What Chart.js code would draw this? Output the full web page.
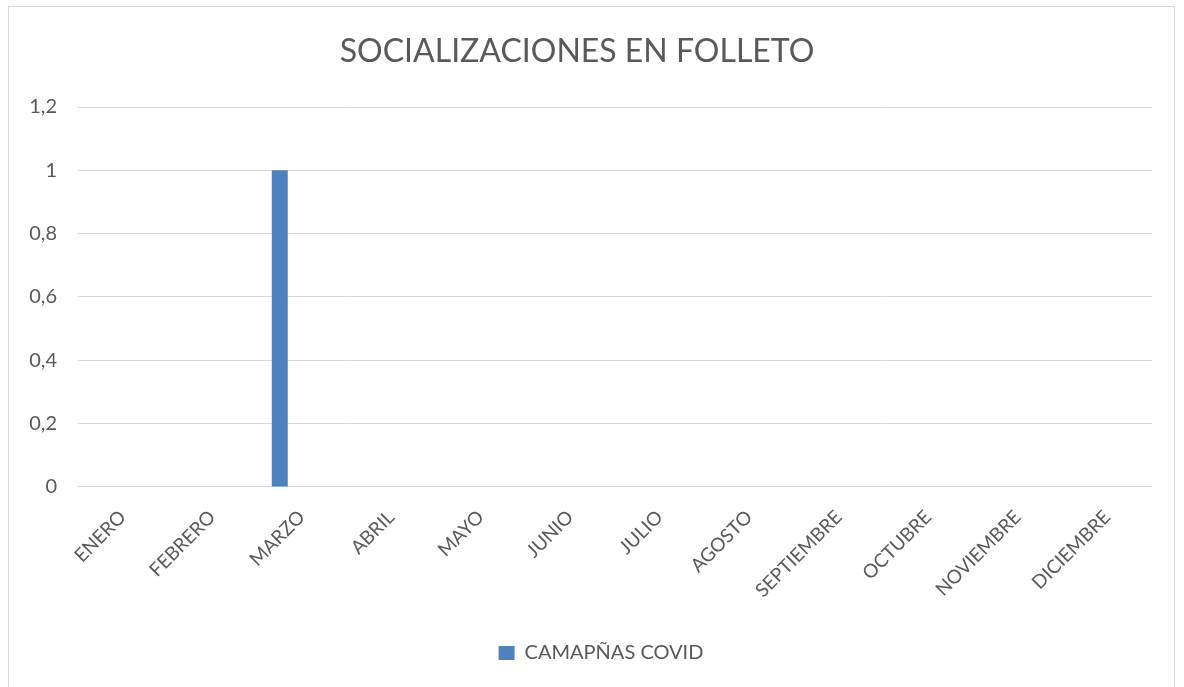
<!DOCTYPE html>
<html>
<head>
<meta charset="utf-8">
<script src="https://cdn.jsdelivr.net/npm/chart.js@4/dist/chart.umd.min.js"></script>
<style>
  html, body { margin: 0; padding: 0; background: #ffffff; overflow: hidden; width: 1184px; height: 687px; }
  #box { position: absolute; left: 8px; top: 6px; width: 1167px; height: 700px; border: 1px solid #d9d9d9; box-sizing: border-box; background: #fff; }
  #c { display: block; }
</style>
</head>
<body>
<div id="box"><canvas id="c" width="1165" height="681"></canvas></div>
<script>
const title = "SOCIALIZACIONES EN FOLLETO";
const categories = ["ENERO","FEBRERO","MARZO","ABRIL","MAYO","JUNIO","JULIO","AGOSTO","SEPTIEMBRE","OCTUBRE","NOVIEMBRE","DICIEMBRE"];
const seriesName = "CAMAPÑAS COVID";
const campanasCovid = [null, null, 1, null, null, null, null, null, null, null, null, null];
// empty series slots present in the source chart (no values, not in legend)
const emptySeriesA = [null, null, null, null, null, null, null, null, null, null, null, null];
const emptySeriesB = [null, null, null, null, null, null, null, null, null, null, null, null];
const yTicks = [0, 0.2, 0.4, 0.6, 0.8, 1, 1.2];

const FONT = "Lato, 'Open Sans', sans-serif";
const TXT = "#595959";

const titlePlugin = {
  id: 'customTitle',
  afterLayout(chart) {
    if (chart.legend) { chart.legend.left += 12; chart.legend.right += 12; }
  },
  afterDraw(chart) {
    const ctx = chart.ctx;
    ctx.save();
    ctx.font = "normal 32px " + FONT;
    ctx.fillStyle = TXT;
    ctx.textAlign = 'center';
    ctx.textBaseline = 'middle';
    ctx.fillText(title, 568, 45);
    ctx.restore();
  }
};

new Chart(document.getElementById('c'), {
  type: 'bar',
  data: {
    labels: categories,
    datasets: [
      { label: seriesName, data: campanasCovid, backgroundColor: '#4f81bd', borderWidth: 0 },
      { label: '', data: emptySeriesA, backgroundColor: '#c0504d' },
      { label: '', data: emptySeriesB, backgroundColor: '#9bbb59' }
    ]
  },
  plugins: [titlePlugin],
  options: {
    responsive: false,
    animation: false,
    categoryPercentage: 0.737,
    barPercentage: 0.727,
    layout: { padding: { left: 17, right: 22, top: 100, bottom: 15 } },
    plugins: {
      title: { display: false },
      legend: {
        position: 'bottom',
        labels: {
          filter: (item) => item.datasetIndex === 0,
          color: TXT, boxWidth: 16, boxHeight: 14,
          font: { family: FONT, size: 20 },
          padding: 22
        }
      },
      tooltip: { enabled: false }
    },
    scales: {
      x: {
        grid: { display: false, drawTicks: false },
        border: { display: false },
        ticks: {
          color: TXT, font: { family: FONT, size: 19 },
          minRotation: 45, maxRotation: 45, padding: 19, autoSkip: false
        }
      },
      y: {
        min: 0, max: 1.2,
        afterBuildTicks: (axis) => { axis.ticks = yTicks.map(v => ({ value: v })); },
        afterFit: (axis) => { axis.width = 52; },
        grid: { color: '#d9d9d9', lineWidth: 1, drawTicks: false },
        border: { display: false },
        ticks: {
          color: TXT, font: { family: FONT, size: 20 }, padding: 21,
          callback: (v) => String(Math.round(v * 10) / 10).replace('.', ',')
        }
      }
    }
  }
});
</script>
</body>
</html>
